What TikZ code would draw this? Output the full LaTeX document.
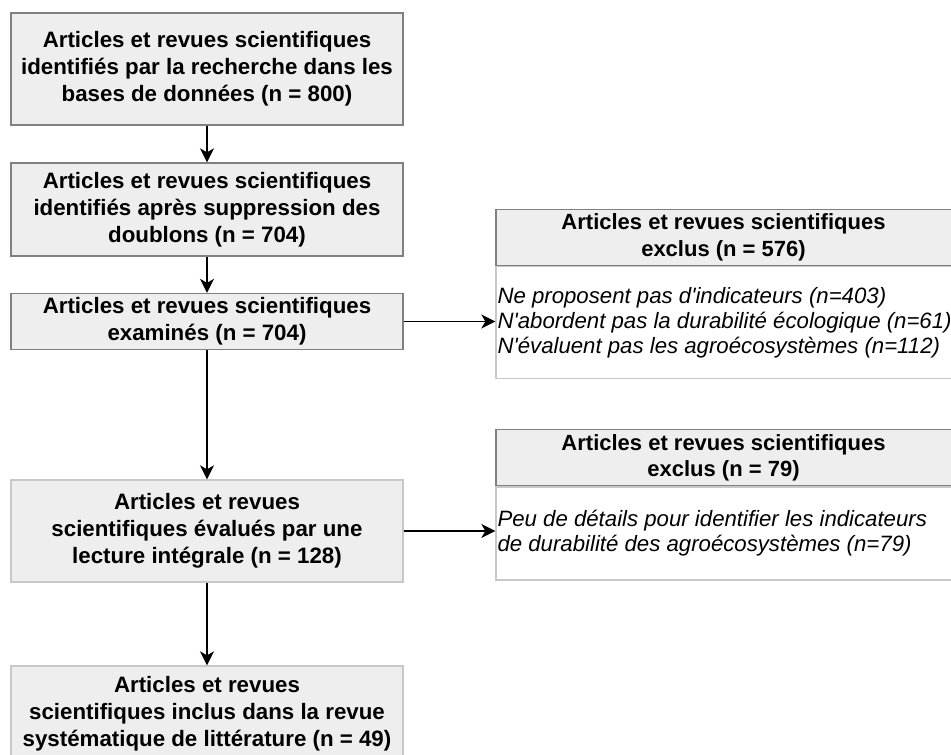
\documentclass[tikz,border=0pt]{standalone}
\usepackage{fontspec}
\setmainfont{Liberation Sans}[Ligatures=TeXOff]
\usetikzlibrary{arrows.meta,positioning}
\definecolor{boxfill}{HTML}{EEEEEE}
\definecolor{darkline}{HTML}{808080}
\definecolor{lightline}{HTML}{C8C8C8}
\tikzset{
  mainbox/.style={draw=darkline, fill=boxfill, line width=1.3pt, minimum width=392pt, inner sep=0pt,
    align=center, font=\bfseries\fontsize{22.3}{26.8}\selectfont},
  lightbox/.style={mainbox, draw=lightline},
  headbox/.style={draw=darkline, fill=boxfill, line width=1.3pt, minimum width=470pt, minimum height=56pt,
    inner sep=0pt},
  headtext/.style={inner sep=0pt, align=center, font=\bfseries\fontsize{22}{26.7}\selectfont},
  bodybox/.style={draw=lightline, fill=white, line width=1.3pt, minimum width=470pt, inner sep=0pt},
  bodytext/.style={anchor=west, align=left, inner sep=0pt, font=\itshape\fontsize{22.2}{25}\selectfont},
  arr/.style={-{Stealth[length=14pt,width=14pt,inset=4pt]}, line width=1.7pt, black},
}
\begin{document}
\begin{tikzpicture}[x=1pt,y=-1pt]
\useasboundingbox (0,0) rectangle (951,755);
\fill[white] (0,0) rectangle (951,755);

\node[mainbox, minimum height=112pt] (b1) at (207,69)
  {Articles et revues scientifiques\\identifiés par la recherche dans les\\bases de données (n = 800)};
\node[mainbox, minimum height=93pt] (b2) at (207,209.5)
  {Articles et revues scientifiques\\identifiés après suppression des\\doublons (n = 704)};
\node[mainbox, minimum height=56pt] (b3) at (207,321.5)
  {Articles et revues scientifiques\\examinés (n = 704)};
\node[lightbox, minimum height=102pt] (b4) at (207,531)
  {Articles et revues\\scientifiques évalués par une\\lecture intégrale (n = 128)};
\node[lightbox, minimum height=96pt] (b5) at (207,714)
  {Articles et revues\\scientifiques inclus dans la revue\\systématique de littérature (n = 49)};

\node[headbox] (h1) at (731,237.5) {};
\node[headtext] (h1t) at (723.5,237.5) {Articles et revues scientifiques\\exclus (n = 576)};
\node[bodybox, minimum height=112pt, below=0pt of h1] (r1) {};
\node[bodytext] (t1) at ([xshift=2pt]r1.west)
  {Ne proposent pas d'indicateurs (n=403)\\N'abordent pas la durabilité écologique (n=61)\\N'évaluent pas les agroécosystèmes (n=112)};

\node[headbox] (h2) at (731,457.8) {};
\node[headtext] (h2t) at (723.5,457.8) {Articles et revues scientifiques\\exclus (n = 79)};
\node[bodybox, minimum height=93pt, below=0pt of h2] (r2) {};
\node[bodytext] (t2) at ([xshift=2pt]r2.west)
  {Peu de détails pour identifier les indicateurs\\de durabilité des agroécosystèmes (n=79)};

\draw[arr] (b1) -- (b2);
\draw[arr] (b2) -- (b3);
\draw[arr] (b3) -- (b4);
\draw[arr] (b4) -- (b5);
\draw[arr] (b3.east) -- (b3.east -| r1.west);
\draw[arr] (b4.east) -- (b4.east -| r2.west);
\end{tikzpicture}
\end{document}
